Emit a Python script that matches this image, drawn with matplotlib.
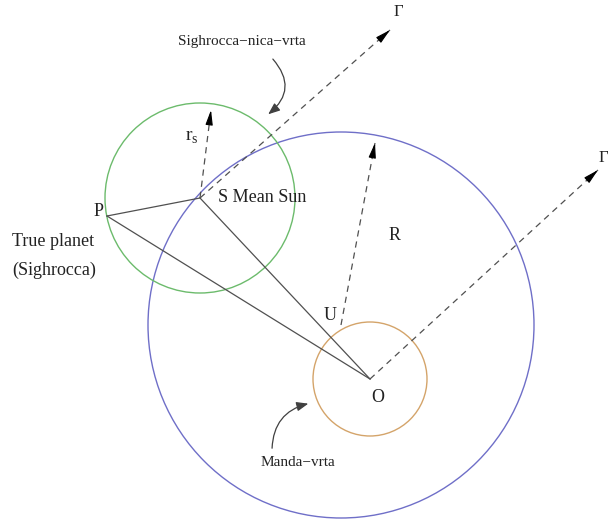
import matplotlib
matplotlib.use('Agg')
import matplotlib.pyplot as plt
from matplotlib.patches import Circle, FancyArrowPatch

# key points of the diagram (pixel-like units, y downwards)
O = (370, 379)
U = (341, 325)
S = (200, 198)
P = (107, 216)

# radii of the three circles
r_manda = 57
r_sighra = 95
R_big = 193

# tips of the dashed arrows
tip_gamma_S = (390, 30)
tip_gamma_O = (598, 170)
tip_rs = (211, 110)
tip_R = (375, 143)

labels = [
    ('P', (99, 212), 13, 'center'),
    ('S Mean Sun', (218, 198), 13, 'left'),
    ('True planet', (12, 241), 13, 'left'),
    ('(Sighrocca)', (12, 270), 13, 'left'),
    ('R', (395, 235), 13, 'center'),
    ('U', (330, 316), 13, 'center'),
    ('O', (378, 398), 13, 'center'),
    ('Γ', (398, 12), 12, 'center'),
    ('Γ', (603, 158), 12, 'center'),
    ('Sighrocca−nica−vrta', (242, 42), 11, 'center'),
    ('Manda−vrta', (298, 463), 11, 'center'),
]

plt.rcParams['font.family'] = ['Liberation Serif', 'DejaVu Serif']

fig = plt.figure(figsize=(6.09, 5.19), dpi=100)
ax = fig.add_axes([0, 0, 1, 1])
ax.set_xlim(0, 609)
ax.set_ylim(519, 0)
ax.axis('off')

ax.add_patch(Circle(U, R_big, fill=False, ec='#6f6fc8', lw=1.0))
ax.add_patch(Circle(S, r_sighra, fill=False, ec='#6cbb6c', lw=1.0))
ax.add_patch(Circle(O, r_manda, fill=False, ec='#d4a46a', lw=1.0))

line_col = '#505050'
for a, b in [(P, S), (P, O), (S, O)]:
    ax.plot([a[0], b[0]], [a[1], b[1]], color=line_col, lw=0.9)


def dashed_arrow(start, tip):
    ax.plot([start[0], tip[0]], [start[1], tip[1]], color=line_col, lw=0.9,
            dashes=(5, 4))
    dx = tip[0] - start[0]
    dy = tip[1] - start[1]
    n = (dx ** 2 + dy ** 2) ** 0.5
    back = (tip[0] - dx / n * 10, tip[1] - dy / n * 10)
    ax.annotate('', xy=tip, xytext=back,
                arrowprops=dict(arrowstyle='-|>,head_length=0.9,head_width=0.22',
                                color='black', lw=0.8, shrinkA=0, shrinkB=0))


dashed_arrow(S, tip_gamma_S)
dashed_arrow(O, tip_gamma_O)
dashed_arrow(S, tip_rs)
dashed_arrow(U, tip_R)

ax.add_patch(FancyArrowPatch((271, 57), (266, 116), connectionstyle='arc3,rad=-0.55',
                             arrowstyle='-|>,head_length=7,head_width=2.8',
                             color='#404040', lw=0.9))
ax.add_patch(FancyArrowPatch((272, 451), (311, 403), connectionstyle='arc3,rad=-0.4',
                             arrowstyle='-|>,head_length=7,head_width=2.8',
                             color='#404040', lw=0.9))

for txt, (x, y), fs, ha in labels:
    ax.text(x, y, txt, fontsize=fs, ha=ha, va='center', color='#222222')

ax.text(192, 137, 'r$_\\mathregular{s}$', fontsize=14, ha='center', va='center', color='#222222')

fig.savefig('out.png', dpi=100)
